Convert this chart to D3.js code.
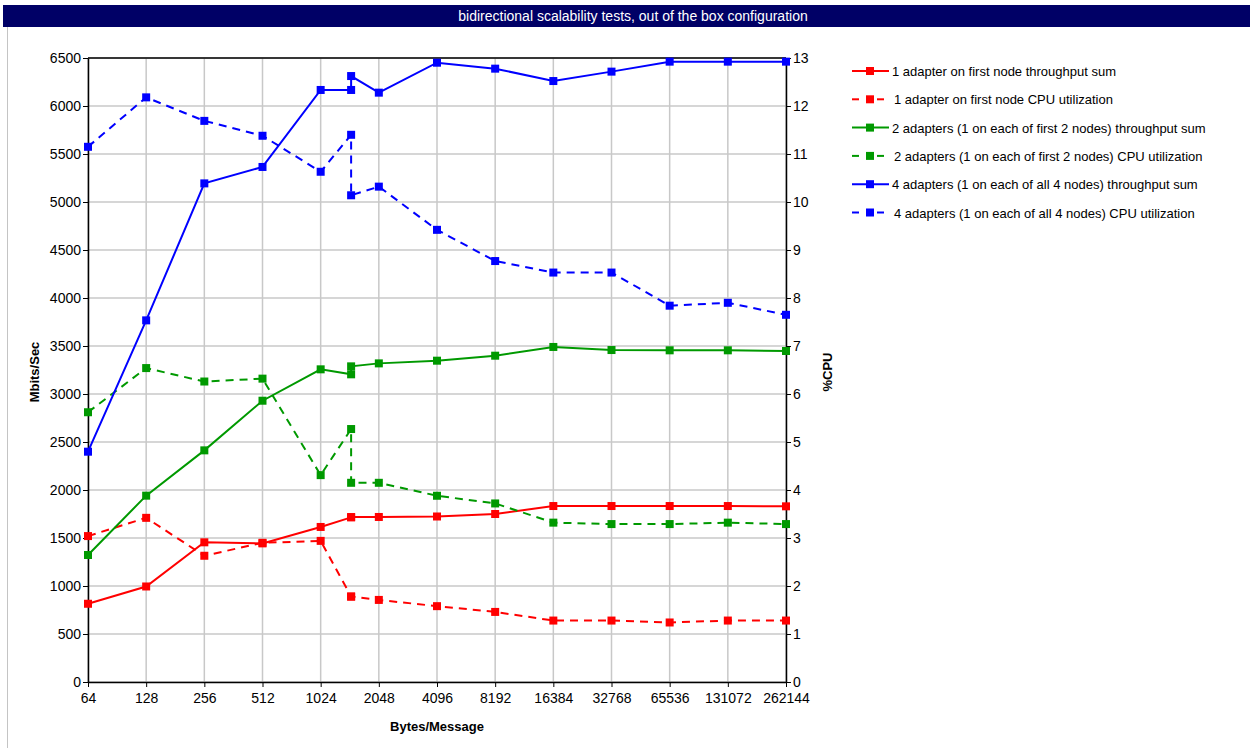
<!DOCTYPE html>
<html>
<head>
<meta charset="utf-8">
<script src="https://cdn.jsdelivr.net/npm/d3@7"></script>
<style>
  body { margin: 0; background: #fff; }
  text { font-family: "Liberation Sans", Arial, sans-serif; }
</style>
</head>
<body>
<script>
// message sizes (1472 appears twice, two runs at that size)
const bytesPerMessage = [64, 128, 256, 512, 1024, 1472, 1472, 2048, 4096, 8192, 16384, 32768, 65536, 131072, 262144];
const xTicks = [64, 128, 256, 512, 1024, 2048, 4096, 8192, 16384, 32768, 65536, 131072, 262144];

// Mbits/Sec
const tput1 = [815, 995, 1455, 1444, 1615, 1715, 1718, 1719, 1724, 1750, 1833, 1833, 1833, 1833, 1830];
const tput2 = [1323, 1941, 2413, 2930, 3257, 3205, 3288, 3319, 3347, 3399, 3490, 3458, 3455, 3455, 3448];
const tput4 = [2399, 3767, 5194, 5365, 6167, 6167, 6312, 6139, 6451, 6389, 6260, 6358, 6462, 6462, 6462];

// %CPU
const cpu1 = [3.04, 3.42, 2.63, 2.90, 2.94, 1.78, 1.78, 1.71, 1.58, 1.46, 1.28, 1.28, 1.24, 1.28, 1.28];
const cpu2 = [5.62, 6.54, 6.26, 6.32, 4.31, 5.27, 4.15, 4.15, 3.88, 3.72, 3.32, 3.29, 3.29, 3.32, 3.29];
const cpu4 = [11.15, 12.18, 11.69, 11.38, 10.63, 11.40, 10.14, 10.32, 9.42, 8.77, 8.53, 8.53, 7.84, 7.90, 7.65];

const series = [
  {name: "1 adapter on first node throughput sum", values: tput1, axis: "left", color: "#ff0000", dashed: false},
  {name: "1 adapter on first node CPU utilization", values: cpu1, axis: "right", color: "#ff0000", dashed: true},
  {name: "2 adapters (1 on each of first 2 nodes) throughput sum", values: tput2, axis: "left", color: "#009900", dashed: false},
  {name: "2 adapters (1 on each of first 2 nodes) CPU utilization", values: cpu2, axis: "right", color: "#009900", dashed: true},
  {name: "4 adapters (1 on each of all 4 nodes) throughput sum", values: tput4, axis: "left", color: "#0000ff", dashed: false},
  {name: "4 adapters (1 on each of all 4 nodes) CPU utilization", values: cpu4, axis: "right", color: "#0000ff", dashed: true}
];

const width = 1250, height = 748;
const plot = {left: 88, right: 786, top: 58, bottom: 682};

const svg = d3.select("body").append("svg")
  .attr("width", width)
  .attr("height", height);

// title bar
svg.append("rect")
  .attr("x", 3).attr("y", 5).attr("width", 1247).attr("height", 22)
  .attr("fill", "#000066");
svg.append("text")
  .attr("x", 633).attr("y", 21)
  .attr("text-anchor", "middle")
  .attr("fill", "#fff")
  .attr("font-size", 14)
  .text("bidirectional scalability tests, out of the box configuration");

// panel border on the left
svg.append("line")
  .attr("x1", 7.5).attr("x2", 7.5).attr("y1", 27).attr("y2", height)
  .attr("stroke", "#c4c4c4");

const x = d3.scaleLog().base(2)
  .domain([64, 262144])
  .range([plot.left, plot.right]);
const yLeft = d3.scaleLinear().domain([0, 6500]).range([plot.bottom, plot.top]);
const yRight = d3.scaleLinear().domain([0, 13]).range([plot.bottom, plot.top]);

// grid
const grid = svg.append("g").attr("stroke", "#c8c8c8").attr("stroke-width", 1.5);
grid.selectAll(".vx").data(xTicks).join("line")
  .attr("x1", d => x(d)).attr("x2", d => x(d))
  .attr("y1", plot.top).attr("y2", plot.bottom);
grid.selectAll(".hy").data(d3.range(0, 6501, 500)).join("line")
  .attr("x1", plot.left).attr("x2", plot.right)
  .attr("y1", d => yLeft(d)).attr("y2", d => yLeft(d));

// axes
const axisFont = g => g.selectAll("text").attr("font-size", 14).attr("fill", "#000")
  .attr("font-family", "Liberation Sans, Arial, sans-serif");

svg.append("g")
  .attr("transform", `translate(0,${plot.bottom})`)
  .call(d3.axisBottom(x).tickValues(xTicks).tickFormat(d3.format("d")).tickSize(5).tickSizeOuter(0).tickPadding(6))
  .call(axisFont)
  .call(g => g.select(".domain").attr("stroke-width", 1.5));

svg.append("g")
  .attr("transform", `translate(${plot.left},0)`)
  .call(d3.axisLeft(yLeft).tickValues(d3.range(0, 6501, 500)).tickFormat(d3.format("d")).tickSize(5).tickSizeOuter(0).tickPadding(2))
  .call(axisFont)
  .call(g => g.select(".domain").attr("stroke-width", 1.5));

svg.append("g")
  .attr("transform", `translate(${plot.right},0)`)
  .call(d3.axisRight(yRight).tickValues(d3.range(0, 14)).tickSize(5).tickSizeOuter(0).tickPadding(2))
  .call(axisFont)
  .call(g => g.select(".domain").attr("stroke-width", 1.5));

svg.append("line")
  .attr("x1", plot.left).attr("x2", plot.right)
  .attr("y1", plot.top).attr("y2", plot.top)
  .attr("stroke", "#000").attr("stroke-width", 1.5);

// axis titles
svg.append("text")
  .attr("x", 437).attr("y", 731)
  .attr("text-anchor", "middle").attr("font-size", 13).attr("font-weight", "bold")
  .text("Bytes/Message");
svg.append("text")
  .attr("transform", "translate(39,372) rotate(-90)")
  .attr("text-anchor", "middle").attr("font-size", 13).attr("font-weight", "bold")
  .text("Mbits/Sec");
svg.append("text")
  .attr("transform", "translate(832,372) rotate(-90)")
  .attr("text-anchor", "middle").attr("font-size", 13).attr("font-weight", "bold")
  .text("%CPU");

// series lines and markers
const lines = svg.append("g");
series.forEach(s => {
  const y = s.axis === "left" ? yLeft : yRight;
  const pts = bytesPerMessage.map((b, i) => [x(b), y(s.values[i])]);
  lines.append("path")
    .attr("d", d3.line()(pts))
    .attr("fill", "none")
    .attr("stroke", s.color)
    .attr("stroke-width", 2)
    .attr("stroke-dasharray", s.dashed ? "8,6" : null);
  lines.selectAll(null).data(pts).join("rect")
    .attr("x", d => d[0] - 4).attr("y", d => d[1] - 4)
    .attr("width", 8).attr("height", 8)
    .attr("fill", s.color);
});

// legend
const legend = svg.append("g").attr("transform", "translate(852,71)");
series.forEach((s, i) => {
  const row = legend.append("g").attr("transform", `translate(0,${i * 28.3})`);
  if (s.dashed) {
    row.append("line").attr("x1", 0).attr("x2", 7).attr("stroke", s.color).attr("stroke-width", 2);
    row.append("line").attr("x1", 25).attr("x2", 32).attr("stroke", s.color).attr("stroke-width", 2);
  } else {
    row.append("line").attr("x1", 0).attr("x2", 37).attr("stroke", s.color).attr("stroke-width", 2);
  }
  row.append("rect").attr("x", 14).attr("y", -4).attr("width", 8).attr("height", 8).attr("fill", s.color);
  row.append("text")
    .attr("x", s.dashed ? 42 : 40).attr("y", 5)
    .attr("font-size", 13)
    .text(s.name);
});
</script>
</body>
</html>
